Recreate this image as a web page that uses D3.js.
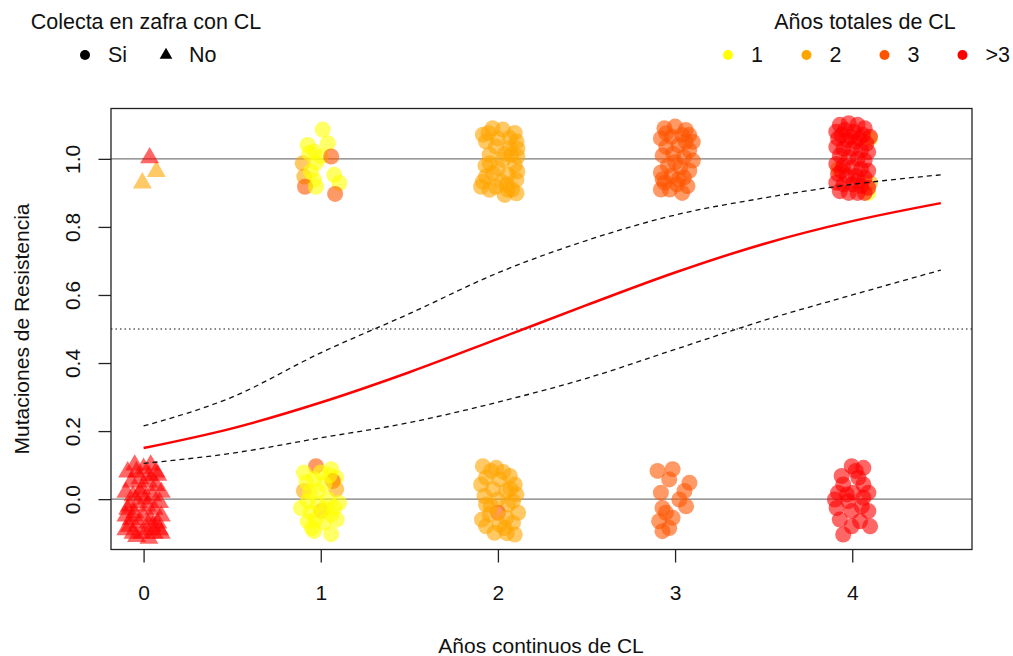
<!DOCTYPE html>
<html lang="es">
<head>
<meta charset="UTF-8">
<title>Mutaciones de Resistencia</title>
<script src="https://cdn.jsdelivr.net/npm/d3@7"></script>
<style>
  body { margin: 0; padding: 0; background: #fff; overflow: hidden; }
  text { font-family: "Liberation Sans", Arial, sans-serif; fill: #111; }
</style>
</head>
<body>
<script>
// categories and ticks
const totalLabels = ["1", "2", "3", ">3"];
const zafraLabels = ["Si", "No"];
const xTicks = [0, 1, 2, 3, 4];
const yTicks = [0, 0.2, 0.4, 0.6, 0.8, 1.0];

// fitted curve and band
const curveX = [0, 0.5, 1, 1.5, 2, 2.5, 3, 3.5, 4, 4.5];
const fitY = [0.150, 0.208, 0.284, 0.373, 0.471, 0.570, 0.666, 0.750, 0.817, 0.870];
const upperY = [0.215, 0.300, 0.430, 0.545, 0.665, 0.760, 0.835, 0.885, 0.925, 0.953];
const lowerY = [0.105, 0.135, 0.180, 0.225, 0.285, 0.355, 0.440, 0.525, 0.600, 0.673];

// jittered observations: [dx, dy, total] around each cluster centre
const noAt0y0 = [[-0.09,0.08,4],[-0.05,0.1,4],[0.0,0.09,4],[0.04,0.1,4],[0.08,0.07,4],[-0.07,0.05,4],[-0.02,0.06,4],[0.03,0.05,4],[0.07,0.04,4],[0.1,0.02,4],
  [-0.1,0.02,4],[-0.06,0.01,4],[-0.01,0.03,4],[0.05,0.01,4],[0.09,-0.01,4],[-0.08,-0.02,4],[-0.03,-0.01,4],[0.02,-0.02,4],[0.06,-0.03,4],[0.1,-0.05,4],
  [-0.1,-0.05,4],[-0.05,-0.04,4],[0.0,-0.05,4],[0.04,-0.06,4],[0.08,-0.07,4],[-0.08,-0.08,4],[-0.03,-0.07,4],[0.02,-0.09,4],[0.06,-0.1,4],[-0.06,-0.1,4],
  [-0.01,-0.1,4],[0.09,-0.09,4],[-0.04,0.08,4],[0.01,0.0,4],[0.07,0.08,4],[-0.09,-0.03,4],[0.05,-0.08,4],[-0.02,0.02,4],[0.03,0.07,4],[-0.07,-0.06,4],
  [-0.1,-0.09,4],[0.1,-0.1,4],[-0.04,-0.11,4],[0.03,-0.115,4]];
const noAt0y1 = [[-0.007,-0.071,2],[0.072,-0.037,2],[0.034,0.003,4]];
const siAt1y1 = [[-0.102,-0.013,2],[-0.093,-0.052,2],[0.011,0.086,1],[-0.074,0.041,1],[0.04,0.046,1],[-0.036,0.022,1],[-0.027,-0.012,1],
  [-0.055,-0.037,1],[-0.038,-0.062,1],[0.076,-0.047,1],[0.105,-0.071,1],[-0.089,-0.082,3],[0.081,-0.103,3],[-0.027,-0.082,1],
  [-0.065,0.017,1],[0.0,0.007,1],[0.059,0.007,3]];
const siAt1y0 = [[-0.027,0.097,3],[-0.095,0.078,1],[0.059,0.088,1],[0.087,0.063,1],[0.068,0.053,3],[-0.038,0.059,1],[0.087,0.029,2],
  [-0.095,0.024,2],[-0.017,0.024,1],[-0.074,-0.006,1],[0.04,0.0,1],[0.104,-0.011,1],[0.002,-0.035,2],[-0.055,-0.04,1],[0.059,-0.045,1],
  [-0.074,-0.065,1],[0.019,-0.07,1],[-0.038,-0.094,1],[0.059,-0.103,1],[-0.112,-0.026,1],[0.076,-0.026,1],[0.0,0.078,1],[0.02,0.044,1],[-0.017,-0.015,1],
  [-0.06,0.02,1],[0.05,0.07,1],[-0.08,0.05,1],[0.09,-0.06,1],[-0.03,-0.06,1],[0.03,-0.03,1],[-0.05,-0.085,1]];
const siAt2y1 = [[-0.053,0.076,2],[0.028,0.086,2],[0.095,0.076,2],[-0.067,0.051,2],[0.105,0.051,2],[-0.011,0.036,2],[0.067,0.032,2],
  [-0.047,0.012,2],[0.11,0.007,2],[0.028,-0.003,2],[-0.047,-0.013,2],[0.095,-0.018,2],[0.0,-0.027,2],[0.11,-0.037,2],[-0.067,-0.052,2],
  [0.057,-0.047,2],[-0.085,-0.067,2],[0.019,-0.067,2],[0.104,-0.062,2],[-0.047,-0.091,2],[0.057,-0.091,2],[0.105,-0.101,2],[-0.095,-0.082,2],
  [-0.011,-0.082,2],[0.11,0.03,2],[-0.085,0.071,2],[0.067,0.061,2],[-0.028,-0.042,2],[0.076,0.012,2],[0.038,-0.106,2],
  [0.0,0.06,2],[-0.03,0.09,2],[0.04,0.015,2],[-0.07,-0.02,2],[0.05,-0.075,2],[0.08,-0.09,2]];
const siAt2y0 = [[-0.085,0.097,2],[-0.01,0.092,2],[0.067,0.068,2],[-0.067,0.063,2],[0.01,0.058,2],[-0.095,0.043,2],[0.095,0.043,2],
  [-0.028,0.029,2],[0.047,0.024,2],[-0.076,0.009,2],[0.104,0.014,2],[0.0,-0.001,2],[-0.067,-0.016,2],[0.057,-0.016,2],[0.0,-0.04,3],
  [0.114,-0.04,2],[-0.047,-0.045,2],[0.047,-0.055,2],[-0.067,-0.08,2],[0.01,-0.075,2],[0.085,-0.07,2],[-0.019,-0.099,2],[0.095,-0.104,2],
  [0.038,-0.085,2],[-0.038,0.083,2],[0.085,-0.006,2],[0.03,0.08,2],[-0.04,-0.02,2],[0.07,0.03,2],[-0.09,-0.06,2],[0.05,-0.1,2]];
const siAt3y1 = [[-0.06,0.09,3],[0.0,0.095,3],[0.06,0.085,3],[-0.08,0.06,3],[-0.02,0.065,3],[0.04,0.07,3],[0.1,0.05,3],[-0.05,0.035,3],
  [0.02,0.04,3],[0.08,0.025,3],[-0.07,0.01,3],[-0.01,0.015,3],[0.05,0.005,3],[0.1,-0.005,3],[-0.04,-0.02,3],[0.03,-0.025,3],[0.08,-0.035,3],
  [-0.08,-0.04,3],[-0.02,-0.05,3],[0.05,-0.055,3],[-0.06,-0.07,3],[0.01,-0.075,3],[0.07,-0.08,3],[-0.03,-0.09,3],[0.04,-0.1,3],
  [-0.08,-0.09,3],[0.0,-0.01,3],[-0.05,0.075,3],[0.06,0.05,3],[0.02,-0.06,3],[-0.07,-0.06,3],[0.08,0.07,3]];
const siAt3y0 = [[-0.099,0.083,3],[-0.014,0.088,3],[-0.033,0.058,3],[0.081,0.048,3],[-0.08,0.019,3],[0.053,0.024,3],[0.024,-0.001,3],
  [0.062,-0.021,3],[-0.071,-0.026,3],[-0.052,-0.04,3],[-0.09,-0.065,3],[-0.033,-0.085,3],[-0.071,-0.094,3],[-0.014,-0.055,3]];
const siAt4y1 = [[0.10,0.06,1],[0.09,-0.1,1],[-0.08,-0.03,2],[0.10,-0.07,2],
  [-0.07,0.1,4],[-0.02,0.105,4],[0.03,0.1,4],[0.07,0.09,4],[-0.09,0.08,4],[-0.04,0.085,4],[0.01,0.08,4],[0.06,0.07,4],[0.10,0.065,4],
  [-0.08,0.06,4],[-0.03,0.055,4],[0.02,0.05,4],[0.08,0.045,4],[-0.09,0.035,4],[-0.05,0.03,4],[0.0,0.03,4],[0.05,0.025,4],[0.09,0.02,4],
  [-0.07,0.01,4],[-0.02,0.005,4],[0.03,0.0,4],[0.07,-0.005,4],[-0.09,-0.015,4],[-0.05,-0.02,4],[0.0,-0.025,4],[0.05,-0.03,4],[0.09,-0.035,4],
  [-0.08,-0.045,4],[-0.03,-0.05,4],[0.02,-0.05,4],[0.07,-0.055,4],[-0.09,-0.07,4],[-0.05,-0.075,4],[0.0,-0.075,4],[0.05,-0.08,4],
  [0.09,-0.085,4],[-0.07,-0.095,4],[-0.02,-0.1,4],[0.03,-0.1,4],[0.07,-0.1,4],[-0.06,0.07,4],[0.04,0.06,4],[-0.01,0.065,4],[-0.06,-0.035,4],[0.03,-0.065,4]];
const siAt4y0 = [[-0.003,0.097,4],[0.063,0.092,4],[-0.06,0.068,4],[0.035,0.063,4],[-0.051,0.043,4],[0.063,0.043,4],[-0.08,0.019,4],
  [0.006,0.019,4],[0.091,0.019,4],[0.063,0.004,4],[-0.098,-0.001,4],[-0.022,-0.006,4],[-0.088,-0.026,4],[-0.003,-0.035,4],[0.091,-0.035,4],
  [0.054,-0.021,4],[-0.07,-0.06,4],[0.044,-0.065,4],[0.101,-0.08,4],[-0.003,-0.08,4],[-0.051,-0.104,4],[-0.03,0.014,4],[0.02,0.083,4]];

const clusters = [
  { cx: 0, cy: 0, zafra: "No", pts: noAt0y0 },
  { cx: 0, cy: 1, zafra: "No", pts: noAt0y1 },
  { cx: 1, cy: 1, zafra: "Si", pts: siAt1y1 },
  { cx: 1, cy: 0, zafra: "Si", pts: siAt1y0 },
  { cx: 2, cy: 1, zafra: "Si", pts: siAt2y1 },
  { cx: 2, cy: 0, zafra: "Si", pts: siAt2y0 },
  { cx: 3, cy: 1, zafra: "Si", pts: siAt3y1 },
  { cx: 3, cy: 0, zafra: "Si", pts: siAt3y0 },
  { cx: 4, cy: 1, zafra: "Si", pts: siAt4y1 },
  { cx: 4, cy: 0, zafra: "Si", pts: siAt4y0 }
];

const color = d3.scaleOrdinal().domain([1, 2, 3, 4]).range(["#FFFF00", "#FFA500", "#FF5500", "#FF0000"]);

const width = 1013, height = 656;
const svg = d3.select("body").append("svg").attr("width", width).attr("height", height);

const x = d3.scaleLinear().domain([-0.184, 4.676]).range([111, 972]);
const y = d3.scaleLinear().domain([-0.148, 1.148]).range([549.5, 108.5]);

// reference lines
svg.selectAll(".href")
  .data([0, 1])
  .enter().append("line")
  .attr("x1", x.range()[0]).attr("x2", x.range()[1])
  .attr("y1", d => y(d)).attr("y2", d => y(d))
  .attr("stroke", "#7a7a7a").attr("stroke-width", 1.2);

svg.append("line")
  .attr("x1", x.range()[0]).attr("x2", x.range()[1])
  .attr("y1", y(0.5)).attr("y2", y(0.5))
  .attr("stroke", "#111").attr("stroke-width", 1.2)
  .attr("stroke-dasharray", "1.5,3");

// points
const flat = [];
clusters.forEach(c => c.pts.forEach(p => flat.push({ x: c.cx + p[0], y: c.cy + p[1], total: p[2], zafra: c.zafra })));

const triangle = d3.symbol().type(d3.symbolTriangle).size(155);

const pts = svg.append("g");
flat.forEach(d => {
  if (d.zafra === "No") {
    pts.append("path")
      .attr("d", triangle)
      .attr("transform", `translate(${x(d.x)},${y(d.y)})`)
      .attr("fill", color(d.total)).attr("fill-opacity", 0.6);
  } else {
    pts.append("circle")
      .attr("cx", x(d.x)).attr("cy", y(d.y)).attr("r", 8)
      .attr("fill", color(d.total)).attr("fill-opacity", 0.6);
  }
});

// fitted curve and confidence band
const lineOf = ys => d3.line()
  .x((d, i) => x(curveX[i]))
  .y(d => y(d))
  .curve(d3.curveMonotoneX)(ys);

svg.append("path").attr("d", lineOf(upperY))
  .attr("fill", "none").attr("stroke", "#111").attr("stroke-width", 1.3).attr("stroke-dasharray", "5,4");
svg.append("path").attr("d", lineOf(lowerY))
  .attr("fill", "none").attr("stroke", "#111").attr("stroke-width", 1.3).attr("stroke-dasharray", "5,4");
svg.append("path").attr("d", lineOf(fitY))
  .attr("fill", "none").attr("stroke", "#FF0000").attr("stroke-width", 2.5);

// box
svg.append("rect")
  .attr("x", 111).attr("y", 108.5)
  .attr("width", 861).attr("height", 441)
  .attr("fill", "none").attr("stroke", "#222").attr("stroke-width", 1.3);

// axes
const yAxis = svg.append("g")
  .attr("transform", "translate(111,0)")
  .call(d3.axisLeft(y).tickValues(yTicks).tickSize(12.5).tickFormat(d3.format(".1f")));
yAxis.select(".domain").remove();
yAxis.selectAll("line").attr("stroke", "#222").attr("stroke-width", 1.3);
yAxis.selectAll("text")
  .attr("transform", "rotate(-90)")
  .attr("x", 0).attr("y", -39).attr("dy", null)
  .attr("text-anchor", "middle").attr("dominant-baseline", "central")
  .style("font-size", "21px").style("font-family", "Liberation Sans, Arial, sans-serif").attr("fill", "#111");

const xAxis = svg.append("g")
  .attr("transform", "translate(0,549.5)")
  .call(d3.axisBottom(x).tickValues(xTicks).tickSize(13).tickFormat(d3.format("d")));
xAxis.select(".domain").remove();
xAxis.selectAll("line").attr("stroke", "#222").attr("stroke-width", 1.3);
xAxis.selectAll("text")
  .attr("y", 42.5).attr("dy", null).attr("dominant-baseline", "central")
  .style("font-size", "21px").style("font-family", "Liberation Sans, Arial, sans-serif").attr("fill", "#111");

svg.append("text")
  .attr("x", 541).attr("y", 645)
  .attr("text-anchor", "middle").attr("dominant-baseline", "central")
  .style("font-size", "21px")
  .text("Años continuos de CL");

svg.append("text")
  .attr("transform", `translate(21,${(108.5 + 549.5) / 2}) rotate(-90)`)
  .attr("text-anchor", "middle").attr("dominant-baseline", "central")
  .style("font-size", "21px")
  .text("Mutaciones de Resistencia");

// legend: collection shape
svg.append("text").attr("x", 146).attr("y", 22)
  .attr("text-anchor", "middle").attr("dominant-baseline", "central")
  .style("font-size", "21.5px").text("Colecta en zafra con CL");

const shapeX = [85, 166];
zafraLabels.forEach((lab, i) => {
  if (lab === "Si") {
    svg.append("circle").attr("cx", shapeX[i]).attr("cy", 55).attr("r", 5).attr("fill", "#000");
  } else {
    svg.append("path").attr("d", d3.symbol().type(d3.symbolTriangle).size(70))
      .attr("transform", `translate(${shapeX[i]},55)`).attr("fill", "#000");
  }
  svg.append("text").attr("x", shapeX[i] + 23).attr("y", 55)
    .attr("dominant-baseline", "central").style("font-size", "21.5px").text(lab);
});

// legend: total years colour
svg.append("text").attr("x", 865).attr("y", 22)
  .attr("text-anchor", "middle").attr("dominant-baseline", "central")
  .style("font-size", "21.5px").text("Años totales de CL");

const colX = [728, 806.5, 884.5, 962.5];
totalLabels.forEach((lab, i) => {
  svg.append("circle").attr("cx", colX[i]).attr("cy", 55).attr("r", 5).attr("fill", color(i + 1));
  svg.append("text").attr("x", colX[i] + 23).attr("y", 55)
    .attr("dominant-baseline", "central").style("font-size", "21.5px").text(lab);
});
</script>
</body>
</html>
